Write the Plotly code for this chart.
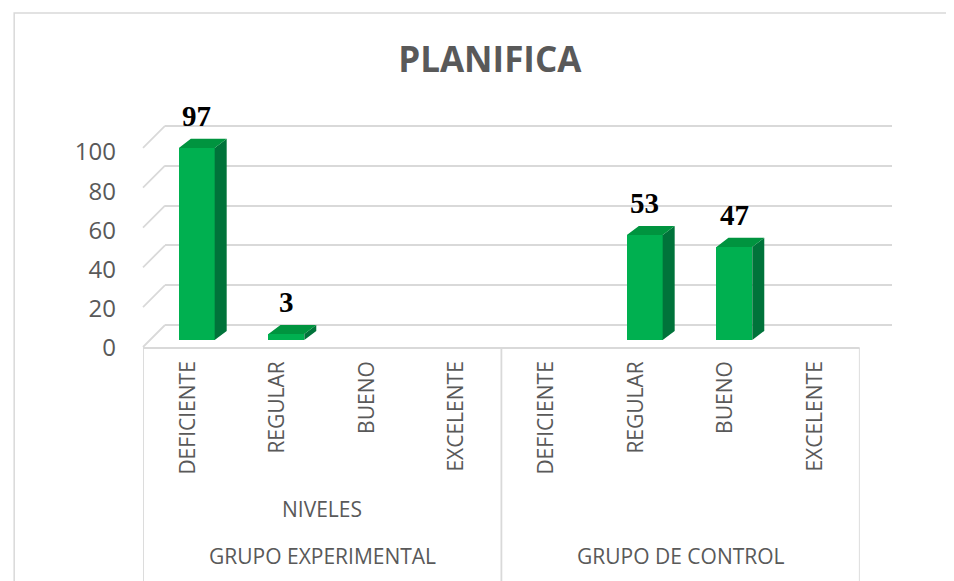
import plotly.graph_objects as go

# data
grupos = ["GRUPO EXPERIMENTAL", "GRUPO DE CONTROL"]
niveles = ["DEFICIENTE", "REGULAR", "BUENO", "EXCELENTE"]
experimental = [97, 3, None, None]
control = [None, 53, 47, None]
y_ticks = [0, 20, 40, 60, 80, 100]

valores = experimental + control
x_pos = list(range(len(valores)))
etiquetas = niveles + niveles

gris = "#595959"
grid = "#D9D9D9"
verde = "#00B050"
verde_lado = "#00733A"
verde_top = "#00943F"

# fake 3d depth
dx, dy = 0.134, 4.6
front_off, front_w = -0.1, 0.4

side_x, side_y, top_x, top_y = [], [], [], []
for i, v in zip(x_pos, valores):
    if v is None:
        continue
    xl = i + front_off
    xr = xl + front_w
    side_x += [xr, xr + dx, xr + dx, xr, xr, None]
    side_y += [0, dy, v + dy, v, 0, None]
    top_x += [xl, xl + dx, xr + dx, xr, xl, None]
    top_y += [v, v + dy, v + dy, v, v, None]

# plot area on screen: y 106..350 (page has 8px body margin)
plot_h = 244.0
def py(p):
    return (350 - p) / plot_h

fig = go.Figure()

# back wall grid (first subplot, only grid lines)
fig.add_trace(go.Scatter(x=[0.5], y=[50], mode="markers", marker=dict(opacity=0),
                         hoverinfo="skip", showlegend=False, xaxis="x", yaxis="y"))

fig.add_trace(go.Bar(x=x_pos, y=valores, width=front_w, offset=front_off,
                     marker=dict(color=verde, line=dict(width=0)),
                     showlegend=False, xaxis="x2", yaxis="y2"))
fig.add_trace(go.Scatter(x=side_x, y=side_y, mode="lines", fill="toself",
                         fillcolor=verde_lado, line=dict(width=0, color=verde_lado),
                         hoverinfo="skip", showlegend=False, xaxis="x2", yaxis="y2"))
fig.add_trace(go.Scatter(x=top_x, y=top_y, mode="lines", fill="toself",
                         fillcolor=verde_top, line=dict(width=0, color=verde_top),
                         hoverinfo="skip", showlegend=False, xaxis="x2", yaxis="y2"))

# value axis labels (front plane)
fig.add_trace(go.Scatter(x=[0], y=[50], mode="markers", marker=dict(opacity=0),
                         hoverinfo="skip", showlegend=False, xaxis="x3", yaxis="y3"))

annotations = []
for i, v in zip(x_pos, valores):
    if v is None:
        continue
    annotations.append(dict(x=i + 0.1, y=v, xref="x2", yref="y2", text="<b>%d</b>" % v,
                            showarrow=False, yanchor="bottom", yshift=14,
                            font=dict(family="Liberation Serif", size=29, color="black")))

annotations.append(dict(x=1.5, y=py(509), xref="x2", yref="paper", text="NIVELES",
                        showarrow=False, yanchor="middle",
                        font=dict(family="Open Sans", size=21, color=gris)))
for k, g in enumerate(grupos):
    annotations.append(dict(x=1.5 + 4 * k, y=py(556), xref="x2", yref="paper", text=g,
                            showarrow=False, yanchor="middle",
                            font=dict(family="Open Sans", size=21, color=gris)))

shapes = []
# outer chart border
shapes.append(dict(type="rect", xref="paper", yref="paper", x0=-0.172, x1=2, y0=-2, y1=py(13),
                   line=dict(color=grid, width=1.5), layer="below"))
# category box
for xv in [-0.5, 3.5, 7.5]:
    shapes.append(dict(type="line", xref="x2", yref="paper", x0=xv, x1=xv, y0=py(348), y1=py(600),
                       line=dict(color=grid, width=1.8)))
shapes.append(dict(type="line", xref="x2", yref="paper", x0=-0.5, x1=7.5, y0=py(348), y1=py(348),
                   line=dict(color=grid, width=1.8)))
# diagonal side wall lines, back wall px = 325 - t*219/110, front 22px lower
for t in y_ticks:
    back = 325 - t * 219 / 110
    shapes.append(dict(type="line", xref="paper", yref="paper", x0=0, x1=0.0294,
                       y0=py(back + 22), y1=py(back), line=dict(color=grid, width=1.8),
                       layer="below"))

fig.update_layout(
    width=954, height=581,
    margin=dict(l=135, r=70, t=98, b=239),
    paper_bgcolor="white", plot_bgcolor="rgba(0,0,0,0)",
    title=dict(text="<b>PLANIFICA</b>", x=0.463, xref="paper", xanchor="center",
               y=1 - 52 / 581, yref="container", yanchor="middle",
               font=dict(family="Open Sans", size=35, color=gris)),
    xaxis=dict(domain=[0.0294, 1], range=[0, 1], showgrid=False, zeroline=False,
               showticklabels=False, showline=False),
    yaxis=dict(domain=[py(325), 1], range=[0, 110], tickvals=y_ticks, showgrid=True,
               gridcolor=grid, gridwidth=2, zeroline=True, zerolinecolor=grid, zerolinewidth=2,
               showticklabels=False, showline=False),
    xaxis2=dict(domain=[0, 0.957], range=[-0.5, 7.5], anchor="y2", tickvals=x_pos,
                ticktext=etiquetas, tickangle=-90, showgrid=False, zeroline=False,
                showline=False, ticklabelstandoff=16,
                tickfont=dict(family="Open Sans", size=21, color=gris)),
    yaxis2=dict(domain=[py(340), py(340 - 110 * 1.98)], range=[0, 110], anchor="x2",
                showgrid=False, zeroline=False, showline=False, showticklabels=False),
    xaxis3=dict(domain=[0, 0.957], range=[-0.5, 7.5], anchor="y3", visible=False),
    yaxis3=dict(domain=[py(348), py(348 - 110 * 1.96)], range=[0, 110], anchor="x3",
                tickvals=y_ticks, showgrid=False, zeroline=False, showline=False,
                ticklabelstandoff=26, tickfont=dict(family="Open Sans", size=24, color=gris)),
    annotations=annotations,
    shapes=shapes,
    bargap=0,
)

fig.write_html("out.html")
